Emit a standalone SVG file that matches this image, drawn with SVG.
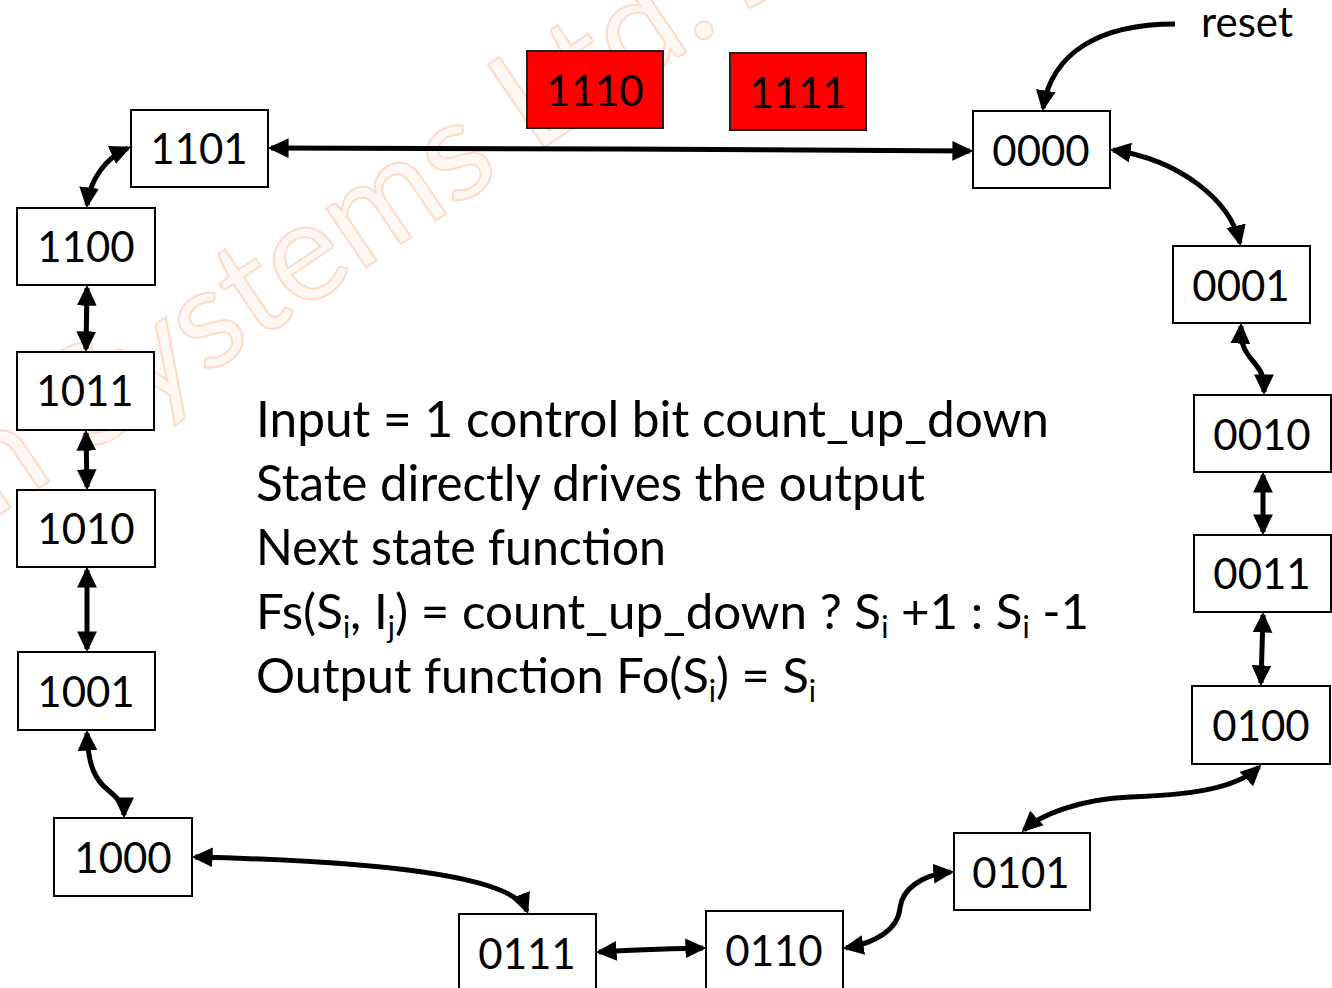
<svg xmlns="http://www.w3.org/2000/svg" width="1332" height="988" viewBox="0 0 1332 988">
<style>
.box{fill:#fff;stroke:#000;stroke-width:2}
.red{fill:#ff0000;stroke:#222;stroke-width:2}
.lbl{font-family:Lato,"Liberation Sans",sans-serif;font-size:42px;fill:#000;text-anchor:middle}
.txt{font-family:Lato,"Liberation Sans",sans-serif;font-size:50px;fill:#000}
.sub{font-size:30px}
.c{fill:none;stroke:#000;stroke-width:5;marker-end:url(#ah)}
.b{marker-start:url(#ah)}
.wm{font-family:Lato,"Liberation Sans",sans-serif;font-size:140px;fill:#fff7f2;stroke:#fcdcc9;stroke-width:2}
</style>
<defs>
<marker id="ah" markerUnits="userSpaceOnUse" markerWidth="22" markerHeight="22" viewBox="0 0 20 20" refX="16" refY="10" orient="auto-start-reverse">
<path d="M0,1 L19,10 L0,19 z" fill="#000"/>
</marker>
</defs>
<rect width="1332" height="988" fill="#fff"/>
<text class="wm" transform="translate(-8,520) rotate(-34)">n Systems Ltd. Ju</text>

<g id="connectors">
<path class="c" d="M1175,24 C1100,24 1052,52 1043,108"/>
<path class="c b" d="M271,148 L620,149 L970,151"/>
<path class="c b" d="M1113,150 C1180,160 1230,200 1240,243"/>
<path class="c b" d="M1241,326 C1240,350 1249,355 1256,365 C1263,373 1264,380 1264,392"/>
<path class="c b" d="M1263,475 L1263,532"/>
<path class="c b" d="M1263,615 L1261,683"/>
<path class="c b" d="M1259,767 C1235,790 1185,795 1130,797 C1080,799 1040,815 1024,830"/>
<path class="c b" d="M951,872 C920,875 902,890 900,908 C898,930 875,943 846,948"/>
<path class="c b" d="M599,952 C630,950 660,949 703,948"/>
<path class="c b" d="M527,911 C515,880 410,862 195,857"/>
<path class="c b" d="M87,733 C88,765 95,780 108,790 C120,800 124,806 124,815"/>
<path class="c b" d="M87,570 L87,649"/>
<path class="c b" d="M86,433 L87,487"/>
<path class="c b" d="M87,288 L86,349"/>
<path class="c b" d="M87,205 C90,180 105,158 128,148"/>
</g>

<g id="reset"><text class="lbl" x="1247" y="37">reset</text></g>

<g id="n1110"><rect class="red" x="527" y="51" width="136" height="77"/><text class="lbl" x="595" y="106">1110</text></g>
<g id="n1111"><rect class="red" x="730" y="53" width="136" height="77"/><text class="lbl" x="798" y="108">1111</text></g>
<g id="n1101"><rect class="box" x="131" y="110" width="137" height="77"/><text class="lbl" x="199" y="164">1101</text></g>
<g id="n0000"><rect class="box" x="973" y="111" width="137" height="77"/><text class="lbl" x="1041" y="166">0000</text></g>
<g id="n1100"><rect class="box" x="17" y="208" width="138" height="77"/><text class="lbl" x="86" y="262">1100</text></g>
<g id="n0001"><rect class="box" x="1173" y="246" width="137" height="77"/><text class="lbl" x="1241" y="301">0001</text></g>
<g id="n1011"><rect class="box" x="17" y="352" width="137" height="78"/><text class="lbl" x="85" y="406">1011</text></g>
<g id="n0010"><rect class="box" x="1194" y="395" width="137" height="77"/><text class="lbl" x="1262" y="450">0010</text></g>
<g id="n1010"><rect class="box" x="17" y="490" width="138" height="77"/><text class="lbl" x="86" y="544">1010</text></g>
<g id="n0011"><rect class="box" x="1194" y="535" width="137" height="77"/><text class="lbl" x="1262" y="589">0011</text></g>
<g id="n1001"><rect class="box" x="18" y="652" width="137" height="78"/><text class="lbl" x="86" y="707">1001</text></g>
<g id="n0100"><rect class="box" x="1192" y="686" width="138" height="78"/><text class="lbl" x="1261" y="741">0100</text></g>
<g id="n1000"><rect class="box" x="54" y="818" width="138" height="78"/><text class="lbl" x="123" y="873">1000</text></g>
<g id="n0101"><rect class="box" x="954" y="833" width="136" height="77"/><text class="lbl" x="1021" y="888">0101</text></g>
<g id="n0111"><rect class="box" x="459" y="914" width="137" height="80"/><text class="lbl" x="527" y="969">0111</text></g>
<g id="n0110"><rect class="box" x="706" y="911" width="137" height="80"/><text class="lbl" x="774" y="966">0110</text></g>

<g id="description">
<text class="txt" x="256" y="437" textLength="793" lengthAdjust="spacingAndGlyphs">Input = 1 control bit count_up_down</text>
<text class="txt" x="256" y="501" textLength="669" lengthAdjust="spacingAndGlyphs">State directly drives the output</text>
<text class="txt" x="256" y="565" textLength="410" lengthAdjust="spacingAndGlyphs">Next state function</text>
<text class="txt" x="256" y="629" style="font-size:49.3px">Fs(S<tspan class="sub" dy="9">i</tspan><tspan dy="-9">, I</tspan><tspan class="sub" dy="9">j</tspan><tspan dy="-9">) = count_up_down ? S</tspan><tspan class="sub" dy="9">i</tspan><tspan dy="-9"> +1 : S</tspan><tspan class="sub" dy="9">i</tspan><tspan dy="-9"> -1</tspan></text>
<text class="txt" x="256" y="693" style="font-size:48.8px">Output function Fo(S<tspan class="sub" dy="9">i</tspan><tspan dy="-9">) = S</tspan><tspan class="sub" dy="9">i</tspan></text>
</g>
</svg>
